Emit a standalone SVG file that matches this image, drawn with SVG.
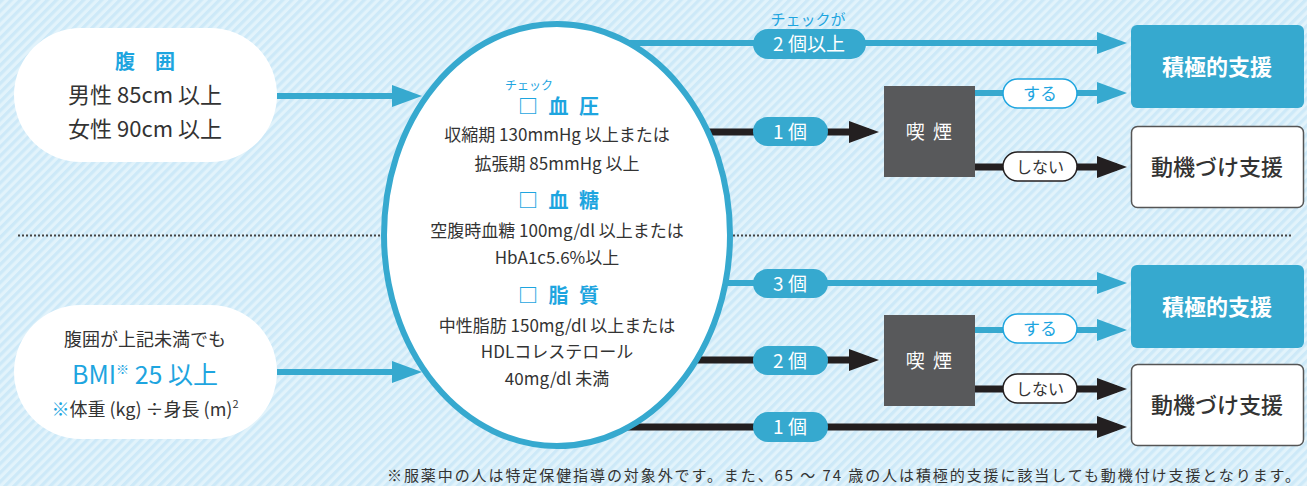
<svg xmlns="http://www.w3.org/2000/svg" width="1307" height="486" viewBox="0 0 1307 486">
<style>
text{font-family:"Noto Sans CJK JP","Noto Sans",sans-serif;text-anchor:middle;}
.dk{fill:#333333;}
.bl{fill:#1ea5df;}
.wt{fill:#ffffff;}
.lnb{stroke:#36a9cf;stroke-width:6;fill:none;}
.lnk{stroke:#231f20;stroke-width:7;fill:none;}
.pill{fill:#36a9cf;}
.pw{fill:#ffffff;stroke-width:1.5;}
.hd{font-size:20px;font-weight:bold;letter-spacing:3px;}
</style>
<defs>
<pattern id="stripes" patternUnits="userSpaceOnUse" width="6.4" height="6.4" patternTransform="rotate(45)">
<rect width="6.4" height="6.4" fill="#e2f3fb"/>
<rect width="3.2" height="6.4" fill="#cde9f8"/>
</pattern>
<marker id="ab" markerUnits="userSpaceOnUse" markerWidth="30" markerHeight="22" refX="20" refY="11" orient="auto">
<path d="M0,0 L30,11 L0,22 z" fill="#36a9cf"/>
</marker>
<marker id="ak" markerUnits="userSpaceOnUse" markerWidth="30" markerHeight="22" refX="20" refY="11" orient="auto">
<path d="M0,0 L30,11 L0,22 z" fill="#231f20"/>
</marker>
</defs>
<rect width="1307" height="486" fill="url(#stripes)"/>
<g id="separator">
<line x1="18" y1="235.5" x2="381" y2="235.5" stroke="#444" stroke-width="2" stroke-dasharray="2 2"/>
<line x1="733" y1="235.5" x2="1292" y2="235.5" stroke="#444" stroke-width="2" stroke-dasharray="2 2"/>
</g>
<g id="connectors">
<line class="lnb" x1="277" y1="96" x2="412" y2="96" marker-end="url(#ab)"/>
<line class="lnb" x1="277" y1="372" x2="412" y2="372" marker-end="url(#ab)"/>
<line class="lnb" x1="600" y1="43" x2="1117" y2="43" marker-end="url(#ab)"/>
<line class="lnk" x1="690" y1="132" x2="869" y2="132" marker-end="url(#ak)"/>
<line class="lnb" x1="975" y1="93" x2="1117" y2="93" marker-end="url(#ab)"/>
<line class="lnk" x1="975" y1="167" x2="1117" y2="167" marker-end="url(#ak)"/>
<line class="lnb" x1="700" y1="283" x2="1117" y2="283" marker-end="url(#ab)"/>
<line class="lnk" x1="680" y1="360" x2="869" y2="360" marker-end="url(#ak)"/>
<line class="lnb" x1="975" y1="330" x2="1117" y2="330" marker-end="url(#ab)"/>
<line class="lnk" x1="975" y1="389" x2="1117" y2="389" marker-end="url(#ak)"/>
<line class="lnk" x1="600" y1="427" x2="1117" y2="427" marker-end="url(#ak)"/>
</g>
<g id="waist">
<rect x="14" y="28" width="263" height="134" rx="67" ry="67" fill="#ffffff"/>
<text x="145" y="69" class="bl" font-size="20" font-weight="bold">腹　囲</text>
<text x="145" y="103" class="dk" font-size="22">男性 85cm 以上</text>
<text x="145" y="137" class="dk" font-size="22">女性 90cm 以上</text>
</g>
<g id="bmi">
<rect x="14" y="305" width="263" height="134" rx="67" ry="67" fill="#ffffff"/>
<text x="145" y="346" class="dk" font-size="18">腹囲が上記未満でも</text>
<text x="145" y="384" class="bl" font-size="25">BMI<tspan font-size="13" dy="-10">※</tspan><tspan dy="10"> 25 以上</tspan></text>
<text x="145" y="416" class="dk" font-size="18"><tspan class="bl">※</tspan>体重 (kg) ÷身長 (m)<tspan font-size="11" dy="-8">2</tspan></text>
</g>
<g id="check">
<ellipse cx="557" cy="235" rx="173" ry="211" fill="#ffffff" stroke="#36a9cf" stroke-width="6"/>
<text x="529" y="90" class="bl" font-size="12">チェック</text>
<text x="560" y="114" class="bl hd">□ 血 圧</text>
<text x="557" y="141" class="dk" font-size="17">収縮期 130mmHg 以上または</text>
<text x="557" y="170" class="dk" font-size="17">拡張期 85mmHg 以上</text>
<text x="560" y="208" class="bl hd">□ 血 糖</text>
<text x="557" y="237" class="dk" font-size="17">空腹時血糖 100mg/dl 以上または</text>
<text x="557" y="264" class="dk" font-size="17">HbA1c5.6%以上</text>
<text x="560" y="303" class="bl hd">□ 脂 質</text>
<text x="557" y="332" class="dk" font-size="17">中性脂肪 150mg/dl 以上または</text>
<text x="557" y="358" class="dk" font-size="17">HDLコレステロール</text>
<text x="557" y="385" class="dk" font-size="17">40mg/dl 未満</text>
</g>
<g id="labels">
<text x="808" y="25" class="bl" font-size="15">チェックが</text>
<rect class="pill" x="753" y="29" width="113" height="30" rx="15"/>
<text x="809" y="51" class="wt" font-size="19">2 個以上</text>
<rect class="pill" x="753" y="117" width="75" height="29" rx="14.5"/>
<text x="790" y="139" class="wt" font-size="19">1 個</text>
<rect class="pw" stroke="#1ea5df" x="1003" y="79" width="74" height="29" rx="14.5"/>
<text x="1040" y="100" class="bl" font-size="17">する</text>
<rect class="pw" stroke="#231f20" x="1003" y="152" width="74" height="29" rx="14.5"/>
<text x="1040" y="173" class="dk" font-size="16">しない</text>
<rect class="pill" x="753" y="269" width="75" height="29" rx="14.5"/>
<text x="790" y="291" class="wt" font-size="19">3 個</text>
<rect class="pw" stroke="#1ea5df" x="1003" y="314" width="74" height="29" rx="14.5"/>
<text x="1040" y="335" class="bl" font-size="17">する</text>
<rect class="pill" x="753" y="346" width="75" height="29" rx="14.5"/>
<text x="790" y="368" class="wt" font-size="19">2 個</text>
<rect class="pw" stroke="#231f20" x="1003" y="374" width="74" height="29" rx="14.5"/>
<text x="1040" y="395" class="dk" font-size="16">しない</text>
<rect class="pill" x="753" y="412" width="75" height="30" rx="15"/>
<text x="790" y="434" class="wt" font-size="19">1 個</text>
</g>
<g id="smoke-top">
<rect x="884" y="86" width="91" height="91" fill="#58595b"/>
<text x="930" y="139" class="wt" font-size="19" letter-spacing="2">喫 煙</text>
</g>
<g id="smoke-bottom">
<rect x="884" y="315" width="91" height="91" fill="#58595b"/>
<text x="930" y="368" class="wt" font-size="19" letter-spacing="2">喫 煙</text>
</g>
<g id="active-top">
<rect x="1131" y="25" width="173" height="83" rx="6" fill="#36a9cf"/>
<text x="1217" y="75" class="wt" font-size="22" font-weight="bold">積極的支援</text>
</g>
<g id="motivate-top">
<rect x="1131.5" y="126.5" width="172" height="81" rx="6" fill="#ffffff" stroke="#555" stroke-width="1.5"/>
<text x="1217" y="175" class="dk" font-size="22" font-weight="500">動機づけ支援</text>
</g>
<g id="active-bottom">
<rect x="1131" y="265" width="173" height="83" rx="6" fill="#36a9cf"/>
<text x="1217" y="315" class="wt" font-size="22" font-weight="bold">積極的支援</text>
</g>
<g id="motivate-bottom">
<rect x="1131.5" y="364.5" width="172" height="81" rx="6" fill="#ffffff" stroke="#555" stroke-width="1.5"/>
<text x="1217" y="413" class="dk" font-size="22" font-weight="500">動機づけ支援</text>
</g>
<g id="footnote">
<text x="387" y="481" class="dk" font-size="15" style="text-anchor:start" textLength="913" lengthAdjust="spacing">※服薬中の人は特定保健指導の対象外です。また、65 ～ 74 歳の人は積極的支援に該当しても動機付け支援となります。</text>
</g>
</svg>
